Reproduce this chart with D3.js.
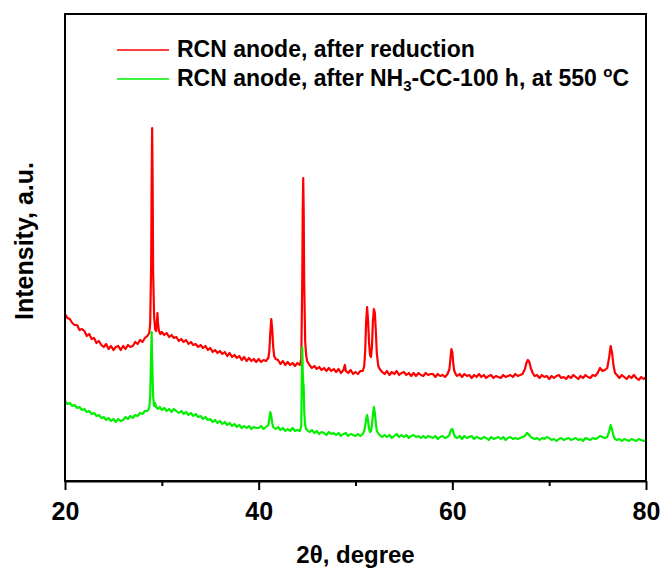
<!DOCTYPE html>
<html>
<head>
<meta charset="utf-8">
<script src="https://cdn.jsdelivr.net/npm/d3@7"></script>
<style>
  body { margin: 0; background: #fff; }
  svg { display: block; font-family: "Liberation Sans", Arial, sans-serif; font-weight: bold; }
</style>
</head>
<body>
<svg id="chart" width="665" height="574"></svg>
<script>
// XRD patterns, [2theta, intensity a.u.]
const reducedPattern = [
  [20.0, 167], [20.25, 163], [20.5, 162], [20.75, 158],
  [21.0, 156], [21.25, 156], [21.5, 151], [21.75, 152],
  [22.0, 150], [22.25, 145], [22.5, 147], [22.75, 142],
  [23.0, 143], [23.25, 138], [23.5, 140], [23.75, 136],
  [24.0, 134], [24.25, 137], [24.5, 132], [24.75, 135],
  [25.0, 131], [25.25, 134], [25.5, 135], [25.75, 131],
  [26.0, 135], [26.25, 132], [26.5, 136], [26.75, 134],
  [27.0, 135], [27.25, 139], [27.5, 137], [27.75, 141],
  [28.0, 139], [28.25, 143], [28.5, 145], [28.7, 148], [28.8, 158],
  [28.9, 220], [28.95, 300], [29.0, 353], [29.05, 300], [29.1, 210],
  [29.2, 165], [29.3, 152], [29.4, 150], [29.5, 160], [29.55, 168],
  [29.6, 158], [29.7, 150], [29.85, 147],
  [30.0, 149], [30.25, 146], [30.5, 148], [30.75, 144],
  [31.0, 146], [31.25, 143], [31.5, 144], [31.75, 140],
  [32.0, 142], [32.25, 139], [32.5, 141], [32.75, 137],
  [33.0, 139], [33.25, 136], [33.5, 137], [33.75, 134],
  [34.0, 136], [34.25, 133], [34.5, 135], [34.75, 131],
  [35.0, 133], [35.25, 129], [35.5, 131], [35.75, 128],
  [36.0, 130], [36.25, 127], [36.5, 129], [36.75, 125],
  [37.0, 128], [37.25, 124], [37.5, 126], [37.75, 123],
  [38.0, 125], [38.25, 121], [38.5, 124], [38.75, 120],
  [39.0, 123], [39.25, 120], [39.5, 122], [39.75, 119],
  [40.0, 122], [40.25, 119], [40.5, 121], [40.75, 120],
  [41.0, 123], [41.1, 130], [41.2, 148], [41.3, 162], [41.4, 152],
  [41.5, 134], [41.6, 125], [41.75, 122],
  [42.0, 121], [42.25, 117], [42.5, 120], [42.75, 116],
  [43.0, 119], [43.25, 116], [43.5, 118], [43.75, 115],
  [44.0, 118], [44.25, 116], [44.4, 122], [44.5, 200], [44.55, 270],
  [44.6, 303], [44.65, 270], [44.7, 200], [44.8, 140], [44.9, 126],
  [45.0, 120], [45.25, 116], [45.5, 113], [45.75, 115],
  [46.0, 112], [46.25, 114], [46.5, 111], [46.75, 113],
  [47.0, 110], [47.25, 113], [47.5, 110], [47.75, 112],
  [48.0, 109], [48.25, 112], [48.5, 108], [48.75, 111], [48.9, 116],
  [49.0, 110], [49.25, 108], [49.5, 111], [49.75, 107],
  [50.0, 109], [50.25, 107], [50.5, 110], [50.75, 110],
  [50.9, 115], [51.0, 130], [51.1, 160], [51.2, 174], [51.3, 160],
  [51.4, 138], [51.5, 126], [51.6, 124], [51.7, 135], [51.8, 160],
  [51.9, 172], [52.0, 168], [52.1, 150], [52.2, 128], [52.35, 115],
  [52.5, 112], [52.75, 109],
  [53.0, 107], [53.25, 110], [53.5, 106], [53.75, 109],
  [54.0, 107], [54.25, 110], [54.5, 106], [54.75, 108],
  [55.0, 109], [55.25, 106], [55.5, 108], [55.75, 105],
  [56.0, 108], [56.25, 105], [56.5, 108], [56.75, 106],
  [57.0, 105], [57.25, 108], [57.5, 106], [57.75, 107],
  [58.0, 107], [58.25, 104], [58.5, 107], [58.75, 105],
  [59.0, 106], [59.25, 104], [59.5, 107], [59.7, 112], [59.8, 122],
  [59.9, 132], [60.0, 129], [60.1, 117], [60.2, 110], [60.4, 106],
  [60.5, 105], [60.75, 107],
  [61.0, 104], [61.25, 107], [61.5, 105], [61.75, 106],
  [62.0, 103], [62.25, 106], [62.5, 104], [62.75, 107],
  [63.0, 104], [63.25, 106], [63.5, 103], [63.75, 105],
  [64.0, 106], [64.25, 103], [64.5, 105], [64.75, 104],
  [65.0, 103], [65.25, 106], [65.5, 104], [65.75, 105],
  [66.0, 106], [66.25, 104], [66.5, 107], [66.75, 105],
  [67.0, 106], [67.25, 107], [67.5, 112], [67.65, 118], [67.8, 121],
  [67.95, 119], [68.1, 113], [68.3, 108], [68.5, 105], [68.75, 106],
  [69.0, 103], [69.25, 106], [69.5, 104], [69.75, 105],
  [70.0, 102], [70.25, 105], [70.5, 103], [70.75, 105],
  [71.0, 106], [71.25, 103], [71.5, 104], [71.75, 102],
  [72.0, 105], [72.25, 103], [72.5, 106], [72.75, 104],
  [73.0, 102], [73.25, 105], [73.5, 103], [73.75, 106],
  [74.0, 104], [74.25, 103], [74.5, 106], [74.75, 105],
  [75.0, 108], [75.25, 113], [75.5, 110], [75.75, 111],
  [76.0, 113], [76.2, 124], [76.35, 135], [76.5, 128], [76.65, 115],
  [76.8, 108],
  [77.0, 106], [77.25, 103], [77.5, 106], [77.75, 104],
  [78.0, 102], [78.25, 105], [78.5, 103], [78.75, 106],
  [79.0, 103], [79.25, 101], [79.5, 104], [79.75, 102],
  [80.0, 104]
]

const afterTestPattern = [
  [20.0, 80], [20.25, 77], [20.5, 78], [20.75, 75],
  [21.0, 76], [21.25, 73], [21.5, 74], [21.75, 71],
  [22.0, 72], [22.25, 69], [22.5, 70], [22.75, 67],
  [23.0, 68], [23.25, 65], [23.5, 66], [23.75, 63],
  [24.0, 64], [24.25, 61], [24.5, 63], [24.75, 60],
  [25.0, 62], [25.25, 59], [25.5, 62], [25.75, 60],
  [26.0, 61], [26.25, 64], [26.5, 62], [26.75, 65],
  [27.0, 63], [27.25, 66], [27.5, 65], [27.75, 68],
  [28.0, 67], [28.25, 70], [28.5, 70], [28.7, 73], [28.8, 85],
  [28.9, 130], [28.95, 149], [29.0, 120], [29.1, 85], [29.2, 75],
  [29.3, 78], [29.4, 74], [29.6, 72], [29.8, 74],
  [30.0, 71], [30.25, 73], [30.5, 70], [30.75, 72],
  [31.0, 69], [31.25, 72], [31.5, 70], [31.75, 68],
  [32.0, 70], [32.25, 67], [32.5, 69], [32.75, 66],
  [33.0, 68], [33.25, 65], [33.5, 67], [33.75, 64],
  [34.0, 65], [34.25, 62], [34.5, 64], [34.75, 61],
  [35.0, 62], [35.25, 59], [35.5, 61], [35.75, 58],
  [36.0, 60], [36.25, 57], [36.5, 59], [36.75, 56],
  [37.0, 58], [37.25, 55], [37.5, 57], [37.75, 54],
  [38.0, 56], [38.25, 53], [38.5, 55], [38.75, 53],
  [39.0, 55], [39.25, 52], [39.5, 54], [39.75, 53],
  [40.0, 53], [40.25, 55], [40.5, 52], [40.75, 54],
  [41.0, 56], [41.1, 62], [41.2, 69], [41.3, 65], [41.4, 58],
  [41.5, 54], [41.75, 52],
  [42.0, 54], [42.25, 51], [42.5, 53], [42.75, 50],
  [43.0, 52], [43.25, 50], [43.5, 53], [43.75, 50],
  [44.0, 51], [44.25, 50], [44.4, 55], [44.45, 100], [44.5, 134],
  [44.55, 110], [44.6, 98], [44.65, 95], [44.7, 70], [44.8, 56],
  [44.9, 52],
  [45.0, 51], [45.25, 49], [45.5, 51], [45.75, 48],
  [46.0, 50], [46.25, 47], [46.5, 49], [46.75, 48],
  [47.0, 46], [47.25, 49], [47.5, 47], [47.75, 48],
  [48.0, 46], [48.25, 48], [48.5, 45], [48.75, 47],
  [49.0, 48], [49.25, 45], [49.5, 47], [49.75, 46],
  [50.0, 45], [50.25, 47], [50.5, 45], [50.75, 47],
  [50.9, 50], [51.0, 55], [51.1, 62], [51.2, 66], [51.3, 60],
  [51.4, 52], [51.5, 49], [51.6, 50], [51.7, 56], [51.8, 66],
  [51.9, 74], [52.0, 68], [52.1, 58], [52.2, 50], [52.4, 47],
  [52.5, 46], [52.75, 44],
  [53.0, 46], [53.25, 44], [53.5, 46], [53.75, 43],
  [54.0, 45], [54.25, 47], [54.5, 44], [54.75, 46],
  [55.0, 44], [55.25, 46], [55.5, 43], [55.75, 45],
  [56.0, 46], [56.25, 44], [56.5, 45], [56.75, 43],
  [57.0, 45], [57.25, 43], [57.5, 45], [57.75, 44],
  [58.0, 43], [58.25, 45], [58.5, 42], [58.75, 44],
  [59.0, 45], [59.25, 43], [59.5, 44], [59.7, 46], [59.85, 51],
  [60.0, 52], [60.15, 47], [60.3, 44], [60.5, 43], [60.75, 45],
  [61.0, 42], [61.25, 45], [61.5, 43], [61.75, 44],
  [62.0, 45], [62.25, 42], [62.5, 44], [62.75, 43],
  [63.0, 42], [63.25, 44], [63.5, 43], [63.75, 41],
  [64.0, 44], [64.25, 42], [64.5, 43], [64.75, 44],
  [65.0, 42], [65.25, 44], [65.5, 41], [65.75, 43],
  [66.0, 44], [66.25, 42], [66.5, 43], [66.75, 42],
  [67.0, 43], [67.25, 44], [67.5, 45], [67.7, 48], [67.85, 47],
  [68.0, 45], [68.25, 43], [68.5, 42], [68.75, 43],
  [69.0, 41], [69.25, 43], [69.5, 42], [69.75, 44],
  [70.0, 43], [70.25, 41], [70.5, 42], [70.75, 40],
  [71.0, 42], [71.25, 43], [71.5, 41], [71.75, 42],
  [72.0, 43], [72.25, 41], [72.5, 42], [72.75, 43],
  [73.0, 41], [73.25, 42], [73.5, 40], [73.75, 43],
  [74.0, 42], [74.25, 41], [74.5, 43], [74.75, 42],
  [75.0, 43], [75.25, 45], [75.5, 44], [75.75, 43],
  [76.0, 44], [76.2, 50], [76.35, 56], [76.5, 51], [76.65, 45],
  [76.8, 42],
  [77.0, 41], [77.25, 42], [77.5, 40], [77.75, 42],
  [78.0, 41], [78.25, 40], [78.5, 42], [78.75, 41],
  [79.0, 40], [79.25, 42], [79.5, 41], [79.75, 40],
  [80.0, 41]
]

const xMajorTicks = [20, 40, 60, 80]
const xMinorTicks = [30, 50, 70]
const xDomain = [20, 80]
const yDomain = [0, 467]

const margin = { top: 14, right: 19, bottom: 93, left: 65 }
const width = 665 - margin.left - margin.right
const height = 574 - margin.top - margin.bottom

const svg = d3.select('#chart')
const g = svg.append('g').attr('transform', `translate(${margin.left}, ${margin.top})`)

const x = d3.scaleLinear().domain(xDomain).range([0, width])
const y = d3.scaleLinear().domain(yDomain).range([height, 0])

const line = d3.line()
  .x(d => x(d[0]))
  .y(d => y(d[1]))

function drawPattern(data, color) {
  g.append('path')
    .datum(data)
    .attr('fill', 'none')
    .attr('stroke', color)
    .attr('stroke-width', 2.2)
    .attr('stroke-linejoin', 'round')
    .attr('d', line)
}

drawPattern(reducedPattern, '#ff0000')
drawPattern(afterTestPattern, '#00f000')

// frame
g.append('rect')
  .attr('width', width)
  .attr('height', height)
  .attr('fill', 'none')
  .attr('stroke', '#000')
  .attr('stroke-width', 2)

// bottom axis, major ticks with labels, minor ticks without
let xAxis = g.append('g')
  .attr('transform', `translate(0, ${height})`)
  .call(d3.axisBottom(x).tickValues(xMajorTicks).tickSize(9).tickSizeOuter(0).tickFormat(d3.format('d')))

xAxis.select('.domain').attr('stroke-width', 2)
xAxis.selectAll('.tick line').attr('stroke-width', 2)
xAxis.selectAll('.tick text')
  .attr('y', 39)
  .attr('dy', 0)
  .attr('font-size', 25)
  .attr('font-family', '"Liberation Sans", Arial, sans-serif')
  .attr('font-weight', 'bold')
  .attr('fill', '#000')

g.append('g')
  .attr('transform', `translate(0, ${height})`)
  .call(d3.axisBottom(x).tickValues(xMinorTicks).tickSize(5).tickSizeOuter(0).tickFormat(''))
  .call(a => a.select('.domain').remove())
  .selectAll('.tick line').attr('stroke-width', 2)

// axis titles
svg.append('text')
  .attr('x', margin.left + width / 2)
  .attr('y', 563)
  .attr('text-anchor', 'middle')
  .attr('font-size', 24)
  .text('2θ, degree')

svg.append('text')
  .attr('transform', 'translate(33, 241) rotate(-90)')
  .attr('text-anchor', 'middle')
  .attr('font-size', 25)
  .text('Intensity, a.u.')

// legend
const legendItems = [
  { color: '#ff0000', y: 50 },
  { color: '#00f000', y: 79 }
]

let legend = svg.append('g')
  .selectAll('g')
  .data(legendItems)
  .enter()
  .append('g')

legend.append('line')
  .attr('x1', 117)
  .attr('x2', 169)
  .attr('y1', d => d.y)
  .attr('y2', d => d.y)
  .attr('stroke', d => d.color)
  .attr('stroke-width', 1.6)

let label1 = svg.append('text')
  .attr('x', 177)
  .attr('y', 57)
  .attr('font-size', 23)
  .text('RCN anode, after reduction')

let label2 = svg.append('text')
  .attr('x', 177)
  .attr('y', 86)
  .attr('font-size', 23)
label2.append('tspan').text('RCN anode, after NH')
label2.append('tspan').attr('font-size', 15).attr('dy', 5).text('3')
label2.append('tspan').attr('dy', -5).text('-CC-100 h, at 550 ')
label2.append('tspan').attr('font-size', 15).attr('dy', -9).text('o')
label2.append('tspan').attr('dy', 9).text('C')
</script>
</body>
</html>
